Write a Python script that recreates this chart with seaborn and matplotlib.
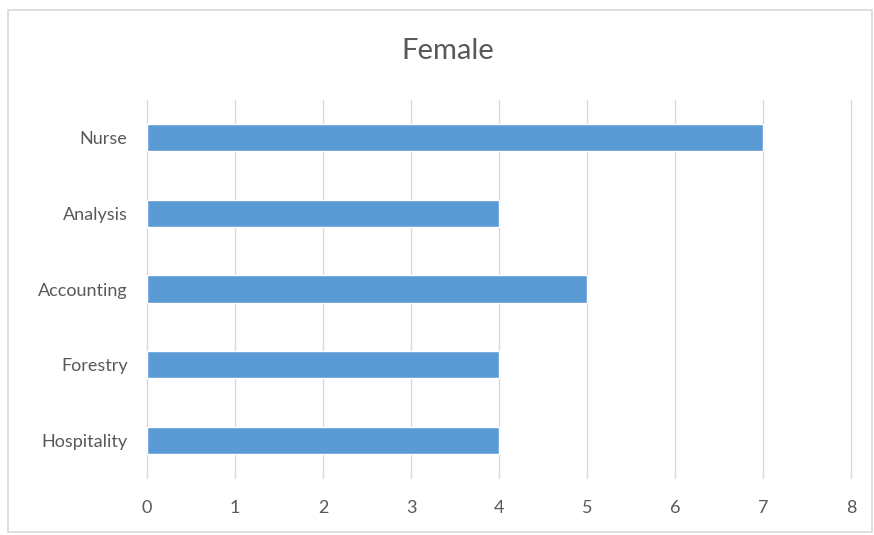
import matplotlib
matplotlib.use("Agg")
import matplotlib.pyplot as plt
from matplotlib.patches import Rectangle
import seaborn as sns
import pandas as pd

categories = ["Nurse", "Analysis", "Accounting", "Forestry", "Hospitality"]
values = [7, 4, 5, 4, 4]
x_ticks = [0, 1, 2, 3, 4, 5, 6, 7, 8]

sns.set_theme(style="white")
plt.rcParams["font.family"] = ["Lato", "DejaVu Sans"]

df = pd.DataFrame({"job": categories, "count": values})

fig = plt.figure(figsize=(8.74, 5.35), dpi=100)
ax = fig.add_axes([0.1682, 0.1065, 0.8055, 0.7066])

# vertical gridlines
for t in x_ticks:
    ax.axvline(t, color="#d9d9d9", lw=1.0, zorder=0, clip_on=False)

sns.barplot(data=df, x="count", y="job", orient="h", color="#5b9bd5",
            saturation=1, width=0.36, ax=ax, zorder=2)

ax.set_xlim(0, 8)
ax.set_ylim(4.5, -0.5)
ax.set_xticks(x_ticks)
ax.set_xticklabels([str(t) for t in x_ticks])
ax.set_xlabel("")
ax.set_ylabel("")
for s in ax.spines.values():
    s.set_visible(False)
ax.tick_params(axis="both", length=0, labelsize=13, colors="#595959")
ax.tick_params(axis="x", pad=16)
ax.tick_params(axis="y", pad=14)

fig.text(0.512, 0.905, "Female", ha="center", va="center",
         fontsize=21, color="#595959")

# chart border
fig.patches.append(Rectangle((8 / 874, 3 / 535), 864 / 874, 522 / 535,
                             transform=fig.transFigure, fill=False,
                             edgecolor="#d9d9d9", lw=1.2))

fig.savefig("out.png", dpi=100)
